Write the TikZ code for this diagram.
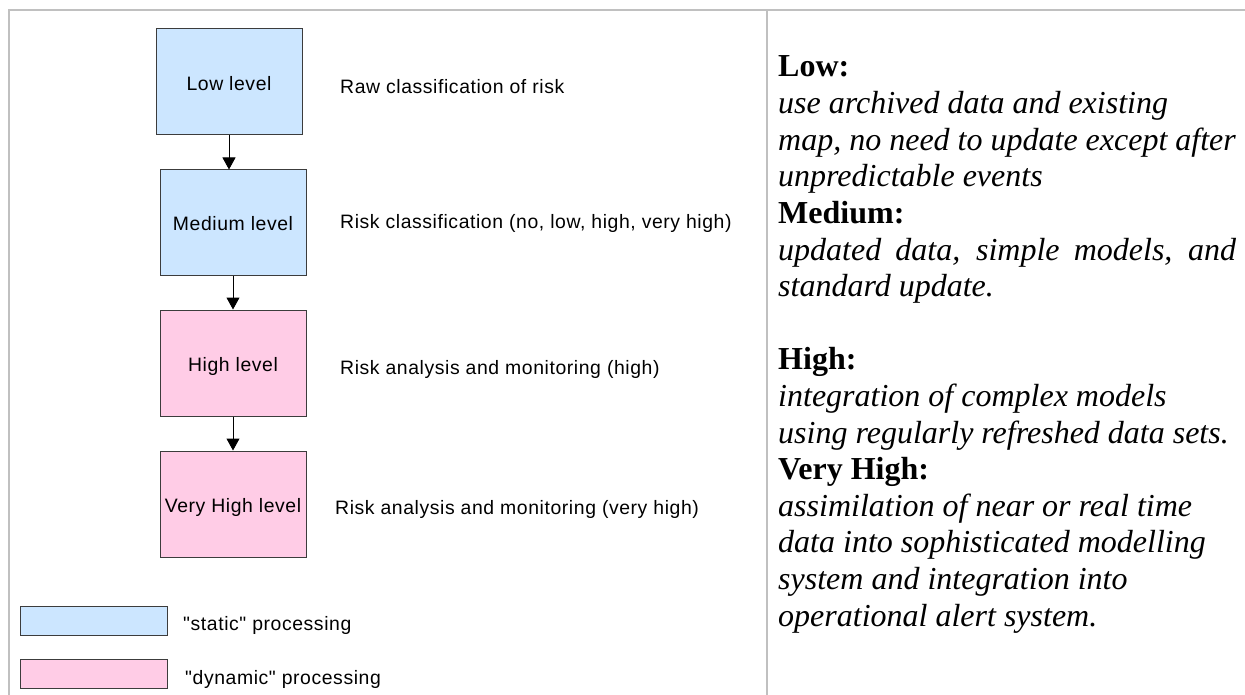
\documentclass[tikz,border=0pt]{standalone}
\usepackage{fontspec}
\setmainfont{Liberation Serif}
\newfontfamily\diagsans{Liberation Sans}[LetterSpace=3]
\usetikzlibrary{arrows.meta}

\definecolor{staticfill}{RGB}{204,230,255}
\definecolor{dynfill}{RGB}{255,204,230}
\definecolor{framegray}{RGB}{192,192,192}
\definecolor{boxedge}{RGB}{60,60,60}

\begin{document}
\begin{tikzpicture}[x=1pt, y=-1pt,
  levelbox/.style={draw=boxedge, line width=1pt, minimum width=146pt,
    minimum height=106pt, inner sep=0pt,
    font=\diagsans\fontsize{19.4}{23}\selectfont,
    text height=17pt, text depth=0pt},
  keybox/.style={draw=boxedge, line width=1pt, minimum width=147pt,
    minimum height=29pt, inner sep=0pt},
  note/.style={anchor=base west, inner sep=0pt,
    font=\diagsans\fontsize{19.4}{23}\selectfont},
  conn/.style={draw=black, line width=1pt,
    -{Triangle[length=12pt, width=13pt]}},
  head/.style={anchor=base west, inner sep=0pt,
    font=\fontsize{32}{36.6}\selectfont\bfseries},
  desc/.style={anchor=base west, inner sep=0pt,
    font=\fontsize{32}{36.6}\selectfont\itshape},
  frameline/.style={draw=framegray, line width=2pt}]

\useasboundingbox (0,0) rectangle (1245,695);

% page frame and column divider
\draw[frameline] (9,695) -- (9,10) -- (1245,10);
\draw[frameline] (767,10) -- (767,695);

% processing levels
\node[levelbox, fill=staticfill] (low)   at (229,82)    {Low level};
\node[levelbox, fill=staticfill, minimum height=105pt] (med) at (233,222.5) {Medium level};
\node[levelbox, fill=dynfill]    (high)  at (233,363)   {High level};
\node[levelbox, fill=dynfill]    (vhigh) at (233,504)   {Very High level};

\draw[conn] (low.south) -- (low.south |- med.north);
\draw[conn] (med.south) -- (high.north);
\draw[conn] (high.south) -- (vhigh.north);

% level descriptions
\node[note] (lowtxt)   at (340,94)  {Raw classification of risk};
\node[note] (medtxt)   at (340,229) {Risk classification (no, low, high, very high)};
\node[note] (hightxt)  at (340,374) {Risk analysis and monitoring (high)};
\node[note] (vhightxt) at (335,514) {Risk analysis and monitoring (very high)};

% legend
\node[keybox, fill=staticfill] (keystatic) at (93.5,620.5) {};
\node[keybox, fill=dynfill]    (keydyn)    at (93.5,674)   {};
\node[note] (keystatictxt) at (183,630) {"static" processing};
\node[note] (keydyntxt)    at (185,684) {"dynamic" processing};

% right-hand column
\node[head] (r1)  at (778,77)    {Low:};
\node[desc] (r2)  at (778,113.6) {use archived data and existing};
\node[desc] (r3)  at (778,150.2) {map, no need to update except after};
\node[desc] (r4)  at (778,186.8) {unpredictable events};
\node[head] (r5)  at (778,223.4) {Medium:};
\node[desc] (r6)  at (778,260)   {\makebox[458pt][s]{updated data, simple models, and}};
\node[desc] (r7)  at (778,296.6) {standard update.};
\node[head] (r8)  at (778,369.8) {High:};
\node[desc] (r9)  at (778,406.4) {integration of complex models};
\node[desc] (r10) at (778,443)   {using regularly refreshed data sets.};
\node[head] (r11) at (778,479.6) {Very High:};
\node[desc] (r12) at (778,516.2) {assimilation of near or real time};
\node[desc] (r13) at (778,552.8) {data into sophisticated modelling};
\node[desc] (r14) at (778,589.4) {system and integration into};
\node[desc] (r15) at (778,626)   {operational alert system.};

\end{tikzpicture}
\end{document}
